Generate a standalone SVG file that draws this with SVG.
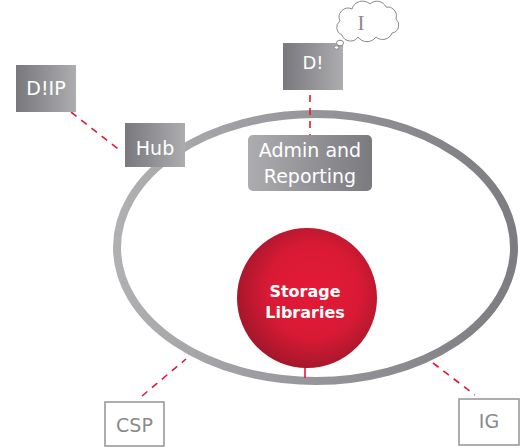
<svg xmlns="http://www.w3.org/2000/svg" width="522" height="448" viewBox="0 0 522 448">
<defs>
  <linearGradient id="ringG" x1="0" y1="0" x2="1" y2="0">
    <stop offset="0" stop-color="#b0b0b3"/>
    <stop offset="1" stop-color="#7c7c81"/>
  </linearGradient>
  <linearGradient id="darkLight" x1="0" y1="0" x2="1" y2="0">
    <stop offset="0" stop-color="#78787d"/>
    <stop offset="1" stop-color="#adadb0"/>
  </linearGradient>
  <linearGradient id="lightDark" x1="0" y1="0" x2="1" y2="0">
    <stop offset="0" stop-color="#adadb0"/>
    <stop offset="1" stop-color="#7a7a7f"/>
  </linearGradient>
  <radialGradient id="redG" cx="0.55" cy="0.45" r="0.55">
    <stop offset="0" stop-color="#e51937"/>
    <stop offset="0.6" stop-color="#d91a34"/>
    <stop offset="1" stop-color="#a7172c"/>
  </radialGradient>
</defs>
<style>
  .lbl { font-family: "DejaVu Sans", "Liberation Sans", sans-serif; font-size: 19px; fill: #ffffff; text-anchor: middle; }
  .olbl { font-family: "DejaVu Sans", "Liberation Sans", sans-serif; font-size: 19px; fill: #8a8a8e; text-anchor: middle; }
  .dash { stroke: #e31937; stroke-width: 1.6; stroke-dasharray: 7 6; fill: none; }
  .obox { fill: #ffffff; stroke: #9a9a9e; stroke-width: 1.6; }
  .slbl { font-family: "DejaVu Sans", "Liberation Sans", sans-serif; font-size: 16px; font-weight: bold; fill: #ffffff; text-anchor: middle; }
</style>

<g id="ring">
  <ellipse cx="315.5" cy="247.5" rx="198.5" ry="133.5" fill="none" stroke="url(#ringG)" stroke-width="8"/>
</g>

<g id="connectors">
  <line class="dash" x1="310" y1="95" x2="310" y2="135"/>
  <line class="dash" x1="71" y1="112" x2="122" y2="152"/>
  <line class="dash" x1="142" y1="396" x2="186" y2="359"/>
  <line class="dash" x1="433" y1="363" x2="475" y2="395"/>
  <line x1="305" y1="367" x2="305" y2="378" stroke="#e31937" stroke-width="1.6"/>
</g>

<g id="storage">
  <circle cx="307" cy="298" r="70" fill="url(#redG)"/>
  <text class="slbl" x="305" y="297">Storage</text>
  <text class="slbl" x="305" y="318">Libraries</text>
</g>

<g id="admin">
  <rect x="248" y="135" width="124" height="56" rx="5" fill="url(#lightDark)"/>
  <text class="lbl" x="310" y="157">Admin and</text>
  <text class="lbl" x="310" y="183">Reporting</text>
</g>

<g id="hub">
  <rect x="125" y="123" width="60" height="44" fill="url(#darkLight)"/>
  <text class="lbl" x="155" y="155">Hub</text>
</g>

<g id="dip">
  <rect x="16" y="65" width="60" height="47" fill="url(#darkLight)"/>
  <text class="lbl" x="46" y="95">D!IP</text>
</g>

<g id="d">
  <rect x="283" y="43" width="60" height="47" fill="url(#darkLight)"/>
  <text class="lbl" x="313" y="69" style="font-size:18px">D!</text>
</g>

<g id="cloud">
  <path d="M342,35 a8,8 0 0 1 -2,-14 a9,9 0 0 1 12,-12 a11,11 0 0 1 18,-5 a10,10 0 0 1 16,3 a9,9 0 0 1 10,12 a8,8 0 0 1 -4,14 a10,10 0 0 1 -16,4 a11,11 0 0 1 -18,0 a9,9 0 0 1 -16,-2 z" fill="#ffffff" stroke="#8a8a8e" stroke-width="1"/>
  <ellipse cx="340" cy="43" rx="3.5" ry="2.8" fill="#ffffff" stroke="#8a8a8e" stroke-width="1"/>
  <ellipse cx="336.5" cy="47.5" rx="2.3" ry="1.8" fill="#ffffff" stroke="#8a8a8e" stroke-width="1"/>
  <text x="361" y="30" font-family="Liberation Serif, serif" font-size="21" fill="#8a8a8e" text-anchor="middle">I</text>
</g>

<g id="csp">
  <rect class="obox" x="105" y="402" width="59" height="44"/>
  <text class="olbl" x="134.5" y="432">CSP</text>
</g>

<g id="ig">
  <rect class="obox" x="459" y="399" width="60" height="46"/>
  <text class="olbl" x="489" y="428">IG</text>
</g>
</svg>
